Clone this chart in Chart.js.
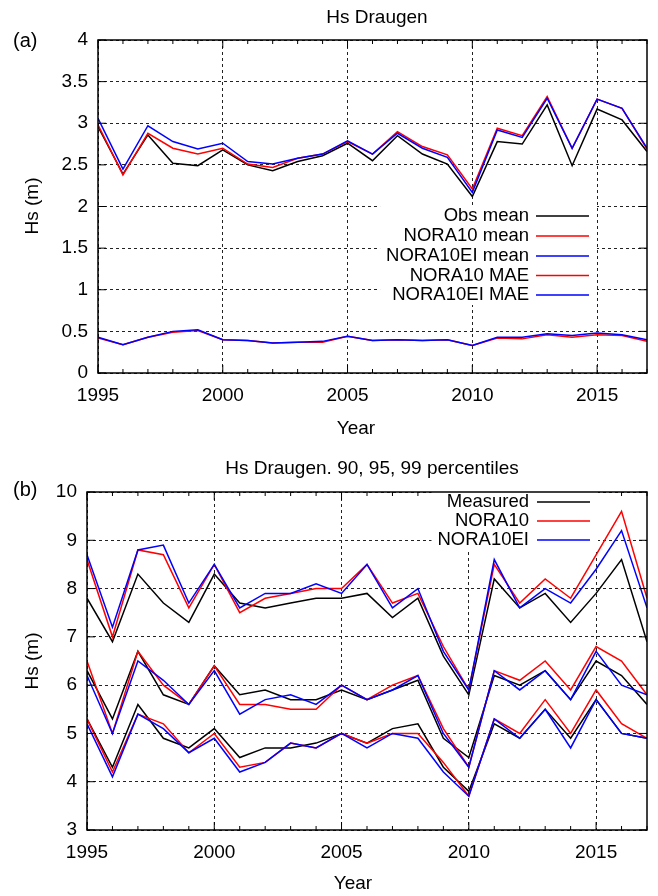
<!DOCTYPE html>
<html>
<head>
<meta charset="utf-8">
<title>Hs Draugen</title>
<script src="https://cdn.jsdelivr.net/npm/chart.js@4/dist/chart.umd.min.js"></script>
<style>
  body { margin: 0; background: #fff; }
  canvas { display: block; }
</style>
</head>
<body>
<canvas id="chartA" width="658" height="445"></canvas>
<canvas id="chartB" width="658" height="451"></canvas>
<script>
'use strict'

/******************     DATA    ******************/
const years = [1995, 1996, 1997, 1998, 1999, 2000, 2001, 2002, 2003, 2004, 2005, 2006,
               2007, 2008, 2009, 2010, 2011, 2012, 2013, 2014, 2015, 2016, 2017];

// panel (a) yearly means and mean absolute errors
const obsMean      = [2.96, 2.39, 2.86, 2.52, 2.49, 2.68, 2.50, 2.43, 2.54, 2.61, 2.76, 2.55, 2.85, 2.63, 2.51, 2.12, 2.78, 2.75, 3.22, 2.49, 3.17, 3.04, 2.66];
const nora10Mean   = [2.98, 2.38, 2.88, 2.70, 2.63, 2.70, 2.51, 2.47, 2.58, 2.63, 2.78, 2.63, 2.90, 2.72, 2.62, 2.21, 2.94, 2.85, 3.32, 2.70, 3.29, 3.18, 2.69];
const nora10eiMean = [3.06, 2.45, 2.97, 2.78, 2.69, 2.76, 2.54, 2.51, 2.58, 2.63, 2.79, 2.63, 2.88, 2.70, 2.59, 2.17, 2.92, 2.83, 3.30, 2.70, 3.29, 3.18, 2.70];
const nora10Mae    = [0.42, 0.34, 0.43, 0.49, 0.51, 0.40, 0.39, 0.36, 0.37, 0.37, 0.44, 0.39, 0.40, 0.39, 0.40, 0.33, 0.42, 0.41, 0.46, 0.43, 0.46, 0.45, 0.38];
const nora10eiMae  = [0.43, 0.34, 0.43, 0.50, 0.52, 0.40, 0.39, 0.36, 0.37, 0.38, 0.44, 0.39, 0.40, 0.39, 0.40, 0.33, 0.43, 0.43, 0.47, 0.45, 0.48, 0.46, 0.40];

// panel (b) 99, 95 and 90 percentiles
const measured99  = [7.8, 6.9, 8.3, 7.7, 7.3, 8.3, 7.7, 7.6, 7.7, 7.8, 7.8, 7.9, 7.4, 7.8, 6.6, 5.8, 8.2, 7.6, 7.9, 7.3, 7.9, 8.6, 6.9];
const nora10P99   = [8.6, 7.0, 8.8, 8.7, 7.6, 8.5, 7.5, 7.8, 7.9, 8.0, 8.0, 8.5, 7.7, 7.9, 6.8, 5.9, 8.5, 7.7, 8.2, 7.8, 8.7, 9.6, 7.8];
const nora10eiP99 = [8.7, 7.2, 8.8, 8.9, 7.7, 8.5, 7.6, 7.9, 7.9, 8.1, 7.9, 8.5, 7.6, 8.0, 6.7, 5.9, 8.6, 7.6, 8.0, 7.7, 8.4, 9.2, 7.6];
const measured95  = [6.3, 5.3, 6.7, 5.8, 5.6, 6.4, 5.8, 5.9, 5.7, 5.7, 5.9, 5.7, 5.9, 6.1, 4.9, 4.5, 6.2, 6.0, 6.3, 5.7, 6.5, 6.2, 5.6];
const nora10P95   = [6.5, 5.0, 6.7, 6.0, 5.6, 6.4, 5.6, 5.6, 5.5, 5.5, 6.0, 5.7, 6.0, 6.2, 5.1, 4.3, 6.3, 6.1, 6.5, 5.9, 6.8, 6.5, 5.8];
const nora10eiP95 = [6.2, 5.0, 6.5, 6.1, 5.6, 6.3, 5.4, 5.7, 5.8, 5.6, 6.0, 5.7, 5.9, 6.2, 5.0, 4.3, 6.3, 5.9, 6.3, 5.7, 6.7, 6.0, 5.8];
const measured90  = [5.3, 4.3, 5.6, 4.9, 4.7, 5.1, 4.5, 4.7, 4.7, 4.8, 5.0, 4.8, 5.1, 5.2, 4.3, 3.8, 5.2, 4.9, 5.5, 4.9, 5.7, 5.0, 4.9];
const nora10P90   = [5.3, 4.2, 5.4, 5.2, 4.6, 5.0, 4.3, 4.4, 4.8, 4.7, 5.0, 4.8, 5.0, 5.0, 4.4, 3.7, 5.3, 5.0, 5.7, 5.0, 5.9, 5.2, 4.9];
const nora10eiP90 = [5.2, 4.1, 5.4, 5.1, 4.6, 4.9, 4.2, 4.4, 4.8, 4.7, 5.0, 4.7, 5.0, 4.9, 4.2, 3.7, 5.3, 4.9, 5.5, 4.7, 5.7, 5.0, 4.9];

// tick labels
const xTickLabels  = ['1995', '2000', '2005', '2010', '2015'];
const yTickLabelsA = ['0', '0.5', '1', '1.5', '2', '2.5', '3', '3.5', '4'];
const yTickLabelsB = ['3', '4', '5', '6', '7', '8', '9', '10'];

const legendA = ['Obs mean', 'NORA10 mean', 'NORA10EI mean', 'NORA10 MAE', 'NORA10EI MAE'];
const legendB = ['Measured', 'NORA10', 'NORA10EI'];

/******************     HELPERS    ******************/
const FONT = "'Liberation Sans', Arial, Helvetica, sans-serif";
const BLACK = '#000000';
const RED = '#ff0000';
const BLUE = '#0000ff';

const toPoints = (vals) => vals.map((v, i) => ({x: years[i], y: v}));

const series = (label, vals, color, order) => ({
    label: label,
    data: toPoints(vals),
    borderColor: color,
    backgroundColor: color,
    borderWidth: 1.5,
    pointRadius: 0,
    tension: 0,
    order: order
});

const labelFor = (list) => (value) => {
    const hit = list.find(l => Number(l) === value);
    return hit === undefined ? '' : hit;
};

// gnuplot look: box, inward ticks, opaque key, free texts
const gnuplotFrame = {
    id: 'gnuplotFrame',
    afterDraw(chart, args, opts) {
        const {ctx, chartArea: a, scales: {x, y}} = chart;
        const seg = (x1, y1, x2, y2) => { ctx.beginPath(); ctx.moveTo(x1, y1); ctx.lineTo(x2, y2); ctx.stroke(); };
        ctx.save();
        ctx.strokeStyle = BLACK;
        ctx.lineWidth = 1;
        for (let t of x.ticks) {
            const px = x.getPixelForValue(t.value);
            const len = t.value % 5 === 0 ? 8 : 4;
            seg(px, a.bottom, px, a.bottom - len);
            seg(px, a.top, px, a.top + len);
        }
        for (let t of y.ticks) {
            const py = y.getPixelForValue(t.value);
            seg(a.left, py, a.left + 8, py);
            seg(a.right, py, a.right - 8, py);
        }

        // opaque key
        ctx.font = `18.5px ${FONT}`;
        const k = opts.key;
        const widest = Math.max(...k.labels.map(l => ctx.measureText(l).width));
        const top = k.rows[0] - 10;
        const bottom = k.rows[k.rows.length - 1] + 10;
        ctx.fillStyle = '#fff';
        ctx.fillRect(k.textRight - widest - 6, top, k.lineTo + 8 - (k.textRight - widest - 6), bottom - top);
        ctx.textAlign = 'right';
        ctx.textBaseline = 'middle';
        k.labels.forEach((l, i) => {
            ctx.fillStyle = BLACK;
            ctx.fillText(l, k.textRight, k.rows[i]);
            ctx.strokeStyle = k.colors[i];
            ctx.lineWidth = 1.5;
            seg(k.lineFrom, k.rows[i], k.lineTo, k.rows[i]);
        });

        // border
        ctx.strokeStyle = BLACK;
        ctx.lineWidth = 1.5;
        ctx.strokeRect(a.left, a.top, a.right - a.left, a.bottom - a.top);

        // texts
        ctx.fillStyle = BLACK;
        ctx.textAlign = 'center';
        ctx.textBaseline = 'middle';
        ctx.font = `19px ${FONT}`;
        ctx.fillText(opts.title, opts.titleX, opts.titleY);
        ctx.fillText(opts.xLabel, opts.xLabelX, opts.xLabelY);
        ctx.textAlign = 'left';
        ctx.font = `20px ${FONT}`;
        ctx.fillText(opts.panel, 13, opts.panelY);
        ctx.translate(33, opts.yLabelY);
        ctx.rotate(-Math.PI / 2);
        ctx.textAlign = 'center';
        ctx.font = `19px ${FONT}`;
        ctx.fillText(opts.yLabel, 0, 0);
        ctx.restore();
    }
};

const xScale = (axisHeight) => ({
    type: 'linear',
    min: 1995,
    max: 2017,
    afterFit: (s) => { s.height = axisHeight; },
    ticks: {
        stepSize: 1,
        autoSkip: false,
        maxRotation: 0,
        padding: 11,
        color: BLACK,
        font: {family: FONT, size: 19},
        callback: labelFor(xTickLabels)
    },
    grid: {
        drawTicks: false,
        lineWidth: 1,
        color: (c) => (c.tick && c.tick.value % 5 === 0) ? '#222' : 'rgba(0,0,0,0)'
    },
    border: {display: false, dash: [3, 3]}
});

const yScale = (min, max, step, width, labels) => ({
    min: min,
    max: max,
    afterFit: (s) => { s.width = width; },
    ticks: {
        stepSize: step,
        padding: 10,
        color: BLACK,
        font: {family: FONT, size: 19},
        callback: labelFor(labels)
    },
    grid: {drawTicks: false, lineWidth: 1, color: '#222'},
    border: {display: false, dash: [3, 3]}
});

/******************     PANEL (a)    ******************/
const chartA = new Chart(document.getElementById('chartA'), {
    type: 'line',
    data: {
        datasets: [
            series(legendA[0], obsMean, BLACK, 5),
            series(legendA[1], nora10Mean, RED, 4),
            series(legendA[2], nora10eiMean, BLUE, 3),
            series(legendA[3], nora10Mae, RED, 2),
            series(legendA[4], nora10eiMae, BLUE, 1)
        ]
    },
    options: {
        responsive: false,
        animation: false,
        layout: {padding: {top: 40, right: 6, left: 0, bottom: 0}},
        scales: {
            x: xScale(72),
            y: yScale(0, 4, 0.5, 98, yTickLabelsA)
        },
        plugins: {
            legend: {display: false},
            tooltip: {enabled: false},
            gnuplotFrame: {
                title: 'Hs Draugen', titleX: 377, titleY: 18,
                xLabel: 'Year', xLabelX: 356, xLabelY: 429,
                yLabel: 'Hs (m)', yLabelY: 206,
                panel: '(a)', panelY: 41,
                key: {
                    labels: legendA,
                    colors: [BLACK, RED, BLUE, RED, BLUE],
                    rows: [216, 236, 256, 275.5, 295],
                    textRight: 529, lineFrom: 536, lineTo: 589
                }
            }
        }
    },
    plugins: [gnuplotFrame]
});

/******************     PANEL (b)    ******************/
const chartB = new Chart(document.getElementById('chartB'), {
    type: 'line',
    data: {
        datasets: [
            series(legendB[0], measured99, BLACK, 9),
            series(legendB[0], measured95, BLACK, 8),
            series(legendB[0], measured90, BLACK, 7),
            series(legendB[1], nora10P99, RED, 6),
            series(legendB[1], nora10P95, RED, 5),
            series(legendB[1], nora10P90, RED, 4),
            series(legendB[2], nora10eiP99, BLUE, 3),
            series(legendB[2], nora10eiP95, BLUE, 2),
            series(legendB[2], nora10eiP90, BLUE, 1)
        ]
    },
    options: {
        responsive: false,
        animation: false,
        layout: {padding: {top: 47, right: 5, left: 0, bottom: 0}},
        scales: {
            x: xScale(66),
            y: yScale(3, 10, 1, 87, yTickLabelsB)
        },
        plugins: {
            legend: {display: false},
            tooltip: {enabled: false},
            gnuplotFrame: {
                title: 'Hs Draugen. 90, 95, 99 percentiles', titleX: 372, titleY: 24,
                xLabel: 'Year', xLabelX: 353, xLabelY: 439,
                yLabel: 'Hs (m)', yLabelY: 216,
                panel: '(b)', panelY: 45,
                key: {
                    labels: legendB,
                    colors: [BLACK, RED, BLUE],
                    rows: [57, 76, 95],
                    textRight: 529, lineFrom: 537, lineTo: 590
                }
            }
        }
    },
    plugins: [gnuplotFrame]
});
</script>
</body>
</html>
